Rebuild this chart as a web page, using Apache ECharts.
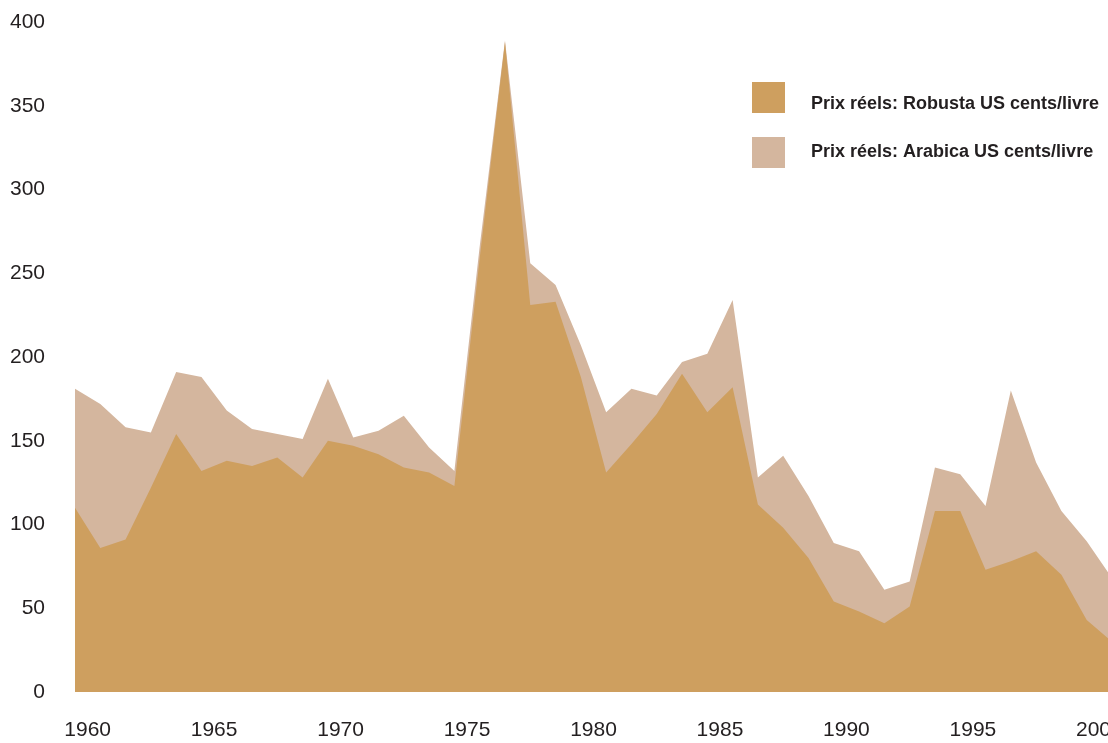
<!DOCTYPE html>
<html>
<head>
<meta charset="utf-8">
<script src="https://cdn.jsdelivr.net/npm/echarts@6/dist/echarts.min.js"></script>
<style>
html,body{margin:0;padding:0;background:#fff;}
#chart{width:1108px;height:743px;}
</style>
</head>
<body>
<div id="chart"></div>
<script>
// Data points: one per year 1960-2001
var years = [1960,1961,1962,1963,1964,1965,1966,1967,1968,1969,1970,1971,1972,1973,1974,1975,1976,1977,1978,1979,1980,1981,1982,1983,1984,1985,1986,1987,1988,1989,1990,1991,1992,1993,1994,1995,1996,1997,1998,1999,2000,2001];
var robusta = [110,86,91,122,154,132,138,135,140,128,150,147,142,134,131,123,259,388,231,233,188,131,148,166,190,167,182,112,98,80,54,48,41,51,108,108,73,78,84,70,43,30];
var arabica = [181,172,158,155,191,188,168,157,154,151,187,152,156,165,146,132,266,389,256,243,207,167,181,177,197,202,234,128,141,117,89,84,61,66,134,130,111,180,137,108,90,68];
// Tick label years (centred on each year's band)
var labelYears = [1960,1961,1962,1963,1964,1965,1966,1967,1968,1969,1970,1971,1972,1973,1974,1975,1976,1977,1978,1979,1980,1981,1982,1983,1984,1985,1986,1987,1988,1989,1990,1991,1992,1993,1994,1995,1996,1997,1998,1999,2000];
var yTicks = {min: 0, max: 400, interval: 50};
var nameRobusta = 'Prix réels: Robusta US cents/livre';
var nameArabica = 'Prix réels: Arabica US cents/livre';

var colRobusta = '#CE9F5F';
var colArabica = '#D4B69E';
var axisFont = "'Liberation Sans', Arial, sans-serif";

var chart = echarts.init(document.getElementById('chart'), null, {renderer: 'canvas'});
chart.setOption({
  animation: false,
  backgroundColor: '#ffffff',
  grid: {left: 75, right: -4, top: 22, bottom: 51, containLabel: false, outerBoundsMode: 'none'},
  legend: {
    left: 752, top: 82, orient: 'vertical', padding: 0,
    itemWidth: 33, itemHeight: 31, itemGap: 24,
    icon: 'rect',
    selectedMode: false,
    data: [
      {name: nameRobusta},
      {name: nameArabica}
    ],
    formatter: function (name) {
      return name === nameRobusta ? '{low|' + name + '}' : name;
    },
    textStyle: {
      fontFamily: axisFont, fontWeight: 'bold', fontSize: 18, color: '#231f20',
      padding: [0, 0, 0, 21],
      rich: {
        low: {
          fontFamily: axisFont, fontWeight: 'bold', fontSize: 18, color: '#231f20',
          lineHeight: 31, verticalAlign: 'bottom'
        }
      }
    }
  },
  xAxis: [
    {
      type: 'category', data: years, boundaryGap: false, show: false,
      position: 'bottom'
    },
    {
      type: 'category', data: labelYears, boundaryGap: true, position: 'bottom',
      axisLine: {show: false}, axisTick: {show: false}, splitLine: {show: false},
      axisLabel: {
        interval: 4, margin: 28, color: '#231f20', fontSize: 21, fontFamily: axisFont
      }
    }
  ],
  yAxis: {
    type: 'value', min: yTicks.min, max: yTicks.max, interval: yTicks.interval,
    axisLine: {show: false}, axisTick: {show: false}, splitLine: {show: false},
    axisLabel: {margin: 30, color: '#231f20', fontSize: 21, fontFamily: axisFont}
  },
  series: [
    {
      name: nameArabica, type: 'line', xAxisIndex: 0, data: arabica,
      symbol: 'none', smooth: false,
      lineStyle: {width: 0, color: colArabica},
      itemStyle: {color: colArabica},
      areaStyle: {color: colArabica, opacity: 1}
    },
    {
      name: nameRobusta, type: 'line', xAxisIndex: 0, data: robusta,
      symbol: 'none', smooth: false,
      lineStyle: {width: 0, color: colRobusta},
      itemStyle: {color: colRobusta},
      areaStyle: {color: colRobusta, opacity: 1}
    }
  ]
});
</script>
</body>
</html>
